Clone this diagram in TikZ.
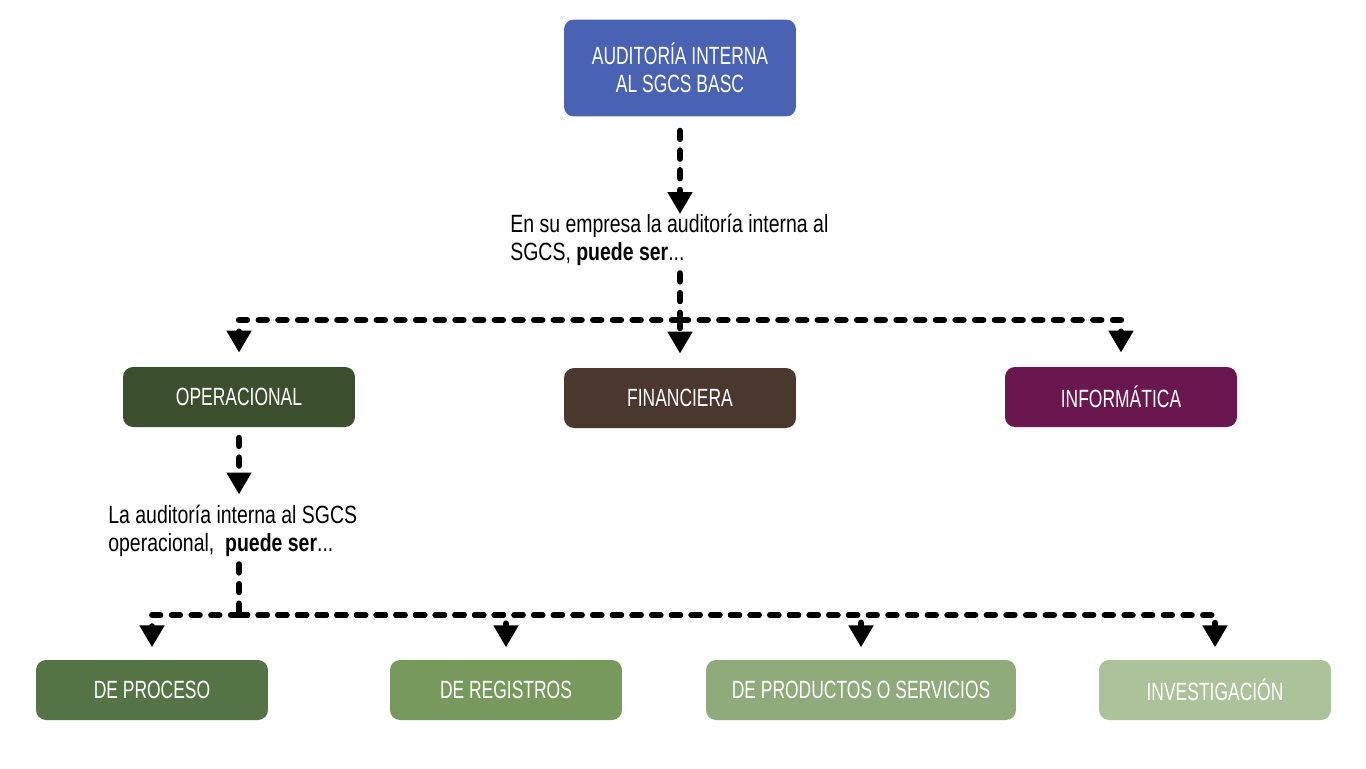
\documentclass[tikz,border=0pt]{standalone}
\usepackage{fontspec}
\setmainfont{Liberation Sans}[FakeStretch=0.7]
\newfontfamily\textofont{Liberation Sans}[FakeStretch=0.78]
\usetikzlibrary{arrows.meta}

\definecolor{azul}{HTML}{4962B4}
\definecolor{verdeosc}{HTML}{3B4F2E}
\definecolor{cafe}{HTML}{4A372E}
\definecolor{morado}{HTML}{6A174F}
\definecolor{verde1}{HTML}{557446}
\definecolor{verde2}{HTML}{77995D}
\definecolor{verde3}{HTML}{8FAB7B}
\definecolor{verde4}{HTML}{ABC29A}

\begin{document}
\begin{tikzpicture}[x=0.02cm,y=-0.02cm,
    caja/.style={rounded corners=0.2cm,minimum width=4.64cm,minimum height=1.2cm,inner sep=0pt,
      text=white,font=\fontsize{14.2}{16}\selectfont,align=center},
    texto/.style={anchor=north west,inner sep=0pt,align=left,font=\textofont\fontsize{14.2}{16}\selectfont},
    linea/.style={line width=3.6pt,dash pattern=on 4.6pt off 6.6pt,line cap=round},
    flecha/.style={linea,-{Triangle[width=13.5pt,length=12.5pt]}}]
  \useasboundingbox (0,0) rectangle (1366,768);

  % nivel superior
  \node[caja,fill=azul,minimum height=1.94cm] (top) at (680,68) {AUDITORÍA INTERNA\\AL SGCS BASC};
  \node[texto] (q1) at (510,214) {En su empresa la auditoría interna al\\SGCS, \textbf{puede ser}...};

  % tipos
  \node[caja,fill=verdeosc] (oper) at (239,397) {OPERACIONAL};
  \node[caja,fill=cafe] (finan) at (680,398) {FINANCIERA};
  \node[caja,fill=morado] (infor) at (1121,397) {INFORMÁTICA};
  \node[texto] (q2) at (108,505) {La auditoría interna al SGCS\\operacional,\ \ \textbf{puede ser}...};

  % operacional
  \node[caja,fill=verde1] (proc) at (152,690) {DE PROCESO};
  \node[caja,fill=verde2] (regi) at (506,690) {DE REGISTROS};
  \node[caja,fill=verde3,minimum width=6.2cm] (prod) at (861,690) {DE PRODUCTOS O SERVICIOS};
  \node[caja,fill=verde4] (inve) at (1215,690) {INVESTIGACIÓN};

  \coordinate (j1) at (680,320);
  \coordinate (j2) at (239,615);

  \draw[flecha,shorten <=8pt] (top.south) -- (top.south |- q1.north);
  \draw[linea,shorten <=4pt] (q1.south -| top.south) -- (j1);
  \draw[flecha,shorten >=8pt] (j1) -| (oper);
  \draw[flecha,shorten >=8pt] (j1) -- (finan);
  \draw[flecha,shorten >=8pt] (j1) -| (infor);

  \draw[flecha,shorten <=6pt,shorten >=6pt] (oper.south) -- (oper.south |- q2.north);
  \draw[linea,shorten <=4pt] (q2.south -| oper.south) -- (j2);
  \draw[flecha,shorten >=7pt] (j2) -| (proc);
  \draw[flecha,shorten >=7pt] (j2) -| (regi);
  \draw[flecha,shorten >=7pt] (j2) -| (prod);
  \draw[flecha,shorten >=7pt] (j2) -| (inve);
\end{tikzpicture}
\end{document}
